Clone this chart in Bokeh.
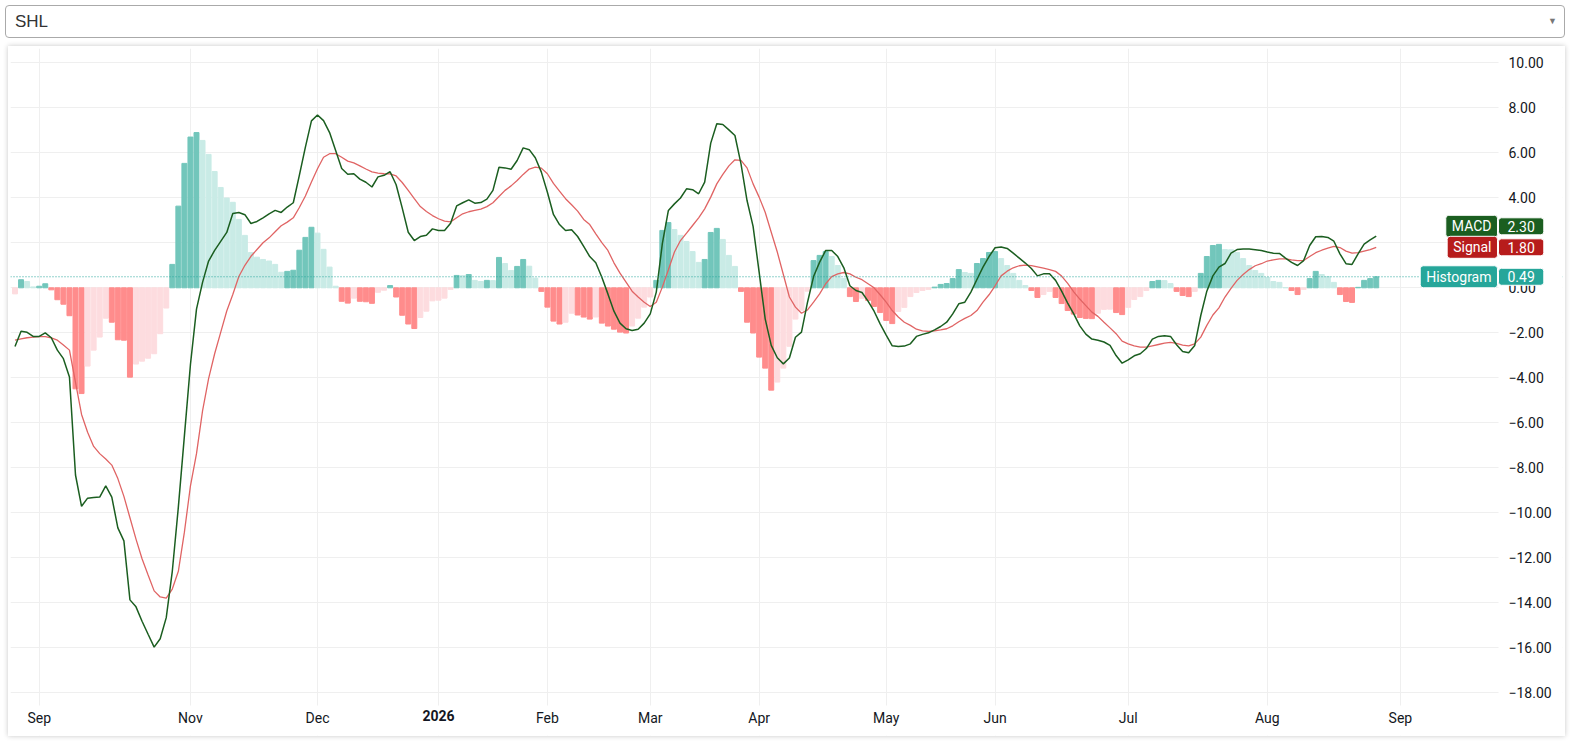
from bokeh.plotting import figure
from bokeh.models import Range1d, FixedTicker, Label, Span, Div, ColumnDataSource, BoxAnnotation
from bokeh.layouts import column
from bokeh.embed import file_html
from bokeh.resources import INLINE

symbol = "SHL"

macd = [
    -2.61, -1.93, -1.98, -2.16, -2.16, -2.00, -2.22, -2.77, -3.15, -3.96,
    -8.32, -9.71, -9.35, -9.32, -9.30, -8.80, -9.30, -10.67, -11.25, -13.87,
    -14.18, -14.82, -15.40, -15.97, -15.60, -14.66, -12.60, -9.75, -6.58, -3.41,
    -0.95, 0.24, 1.19, 1.66, 2.06, 2.46, 3.30, 3.35, 3.25, 2.86,
    2.95, 3.11, 3.29, 3.44, 3.35, 3.59, 3.78, 5.00, 6.25, 7.42,
    7.68, 7.43, 6.90, 6.10, 5.30, 5.05, 5.07, 4.83, 4.69, 4.48,
    4.93, 5.00, 5.16, 4.58, 3.55, 2.47, 2.10, 2.28, 2.34, 2.62,
    2.55, 2.55, 2.87, 3.64, 3.78, 3.91, 3.76, 3.79, 3.94, 4.33,
    5.36, 5.33, 5.27, 5.66, 6.22, 6.14, 5.78, 5.14, 4.25, 3.26,
    2.81, 2.55, 2.58, 2.28, 1.84, 1.39, 1.11, 0.47, -0.27, -1.04,
    -1.57, -1.82, -1.90, -1.84, -1.57, -1.16, -0.19, 1.96, 3.44, 3.73,
    3.99, 4.40, 4.36, 4.18, 4.70, 6.43, 7.29, 7.26, 7.02, 6.77,
    5.51, 3.88, 2.73, 0.70, -1.38, -2.56, -3.11, -3.38, -3.12, -2.20,
    -1.97, -0.64, 0.50, 1.14, 1.66, 1.66, 1.39, 0.89, 0.09, -0.12,
    -0.21, -0.59, -1.04, -1.60, -2.10, -2.58, -2.61, -2.59, -2.49, -2.16,
    -2.07, -2.00, -1.87, -1.72, -1.53, -1.16, -0.71, -0.64, -0.19, 0.37,
    0.92, 1.39, 1.78, 1.81, 1.75, 1.54, 1.32, 1.10, 0.86, 0.53,
    0.62, 0.62, 0.33, -0.15, -0.68, -1.16, -1.69, -2.06, -2.28, -2.33,
    -2.41, -2.56, -3.01, -3.35, -3.20, -3.02, -2.93, -2.70, -2.28, -2.16,
    -2.13, -2.16, -2.53, -2.83, -2.89, -2.56, -1.23, -0.15, 0.53, 0.92,
    1.08, 1.54, 1.70, 1.73, 1.72, 1.69, 1.66, 1.59, 1.54, 1.53,
    1.32, 1.13, 0.99, 1.21, 1.88, 2.27, 2.28, 2.24, 2.07, 1.51,
    1.07, 1.04, 1.51, 1.94, 2.13, 2.30,
]

signal = [
    -2.33, -2.27, -2.22, -2.19, -2.17, -2.17, -2.23, -2.33, -2.54, -2.77,
    -4.20, -5.63, -6.42, -7.05, -7.37, -7.61, -7.88, -8.48, -9.27, -10.22,
    -11.17, -12.04, -12.76, -13.47, -13.74, -13.79, -13.39, -12.60, -10.86, -8.80,
    -7.37, -5.47, -4.04, -2.93, -1.98, -1.03, -0.30, 0.50, 1.00, 1.40,
    1.70, 2.00, 2.22, 2.49, 2.76, 2.92, 3.11, 3.57, 4.08, 4.70,
    5.29, 5.80, 5.96, 5.96, 5.80, 5.63, 5.55, 5.42, 5.28, 5.15,
    5.10, 5.07, 5.06, 4.97, 4.68, 4.33, 3.96, 3.61, 3.39, 3.21,
    3.07, 2.96, 2.93, 3.11, 3.29, 3.38, 3.44, 3.50, 3.61, 3.78,
    4.06, 4.33, 4.53, 4.77, 5.04, 5.28, 5.36, 5.32, 5.07, 4.64,
    4.30, 3.96, 3.69, 3.41, 3.04, 2.81, 2.40, 2.01, 1.66, 1.11,
    0.65, 0.25, -0.15, -0.41, -0.64, -0.83, -0.64, 0.03, 0.80, 1.59,
    2.10, 2.43, 2.77, 3.11, 3.51, 4.03, 4.62, 5.04, 5.42, 5.69,
    5.66, 5.33, 4.62, 4.03, 3.36, 2.47, 1.59, 0.59, -0.41, -0.86,
    -1.13, -0.98, -0.64, -0.27, 0.18, 0.50, 0.62, 0.68, 0.62, 0.47,
    0.36, 0.18, 0.00, -0.31, -0.64, -1.01, -1.30, -1.53, -1.67, -1.84,
    -1.91, -1.94, -1.91, -1.87, -1.82, -1.69, -1.51, -1.36, -1.23, -1.01,
    -0.64, -0.31, 0.09, 0.53, 0.74, 0.89, 0.98, 1.01, 0.99, 0.93,
    0.87, 0.81, 0.73, 0.52, 0.20, -0.18, -0.50, -0.79, -1.08, -1.27,
    -1.53, -1.78, -2.04, -2.37, -2.49, -2.58, -2.64, -2.64, -2.58, -2.52,
    -2.46, -2.43, -2.47, -2.55, -2.58, -2.49, -2.19, -1.67, -1.21, -0.89,
    -0.41, -0.03, 0.33, 0.59, 0.81, 0.98, 1.07, 1.19, 1.24, 1.29,
    1.29, 1.24, 1.21, 1.21, 1.39, 1.56, 1.67, 1.76, 1.84, 1.79,
    1.63, 1.54, 1.56, 1.63, 1.70, 1.80,
]

hist = [
    -0.27, 0.36, 0.28, 0.04, 0.07, 0.18, -0.09, -0.53, -0.73, -1.24,
    -4.49, -4.70, -3.48, -2.77, -2.19, -1.35, -1.53, -2.31, -2.33, -3.97,
    -3.39, -3.26, -3.13, -2.93, -2.04, -0.90, 1.04, 3.63, 5.53, 6.70,
    6.90, 6.55, 5.93, 5.17, 4.46, 3.99, 3.80, 3.04, 2.33, 1.57,
    1.36, 1.26, 1.19, 1.04, 0.69, 0.73, 0.78, 1.67, 2.24, 2.69,
    2.43, 1.71, 0.92, 0.07, -0.60, -0.68, -0.46, -0.60, -0.62, -0.69,
    -0.20, -0.11, 0.10, -0.41, -1.22, -1.61, -1.81, -1.32, -1.04, -0.58,
    -0.55, -0.46, -0.07, 0.55, 0.54, 0.59, 0.33, 0.28, 0.33, 0.32,
    1.35, 1.08, 0.77, 0.95, 1.26, 0.96, 0.43, -0.16, -0.86, -1.48,
    -1.61, -1.53, -1.13, -1.21, -1.30, -1.39, -1.30, -1.57, -1.70, -1.84,
    -1.97, -2.01, -1.70, -1.35, -0.86, -0.41, 0.33, 2.55, 2.90, 2.59,
    2.33, 2.06, 1.61, 1.13, 1.26, 2.46, 2.64, 2.15, 1.44, 0.95,
    -0.16, -1.53, -2.01, -3.08, -3.57, -4.55, -4.19, -3.57, -2.60, -1.39,
    -1.00, -0.15, 1.21, 1.44, 1.61, 1.39, 0.99, 0.41, -0.39, -0.61,
    -0.47, -0.56, -0.83, -1.10, -1.45, -1.59, -1.05, -0.87, -0.39, -0.21,
    -0.12, -0.07, 0.03, 0.15, 0.19, 0.41, 0.81, 0.68, 0.64, 1.08,
    1.30, 1.57, 1.61, 1.30, 0.99, 0.64, 0.33, 0.10, -0.12, -0.43,
    -0.30, -0.16, -0.43, -0.70, -1.01, -1.17, -1.32, -1.36, -1.37, -1.13,
    -0.96, -0.95, -1.10, -1.19, -0.87, -0.52, -0.39, -0.12, 0.28, 0.33,
    0.32, 0.19, -0.16, -0.34, -0.39, -0.16, 0.64, 1.39, 1.88, 1.93,
    1.70, 1.69, 1.57, 1.30, 0.99, 0.77, 0.64, 0.46, 0.28, 0.24,
    0.01, -0.12, -0.30, -0.07, 0.41, 0.73, 0.59, 0.50, 0.24, -0.30,
    -0.61, -0.65, 0.02, 0.33, 0.41, 0.49,
]

month_ticks = [4, 29, 50, 70, 88, 105, 123, 144, 162, 184, 207, 229]
month_labels = ["Sep", "Nov", "Dec", "2026", "Feb", "Mar", "Apr", "May", "Jun", "Jul", "Aug", "Sep"]
year_label = "2026"
y_ticks = list(range(-18, 11, 2))

# colours
TEAL = "#72c6bb"
TEAL_LIGHT = "#c9ebe6"
RED = "#ff8c8c"
PINK = "#fddcdf"
MACD_COLOR = "#1b5e20"
SIGNAL_COLOR = "#e06464"
MACD_BADGE = "#1b5e20"
SIGNAL_BADGE = "#b71c1c"
HIST_BADGE = "#26a69a"
GRID = "#efefef"
TEXT = "#131722"
FONT = "Roboto"

n = len(hist)
idx = list(range(n))
colors = []
for i, h in enumerate(hist):
    prev = hist[i - 1] if i > 0 else h
    if h >= 0:
        colors.append(TEAL if h > prev else TEAL_LIGHT)
    else:
        colors.append(RED if h < prev else PINK)

src = ColumnDataSource(dict(x=idx, macd=macd, signal=signal, hist=hist, color=colors))

# view window (bar index / value units)
x_start, x_end = -0.744, 255.79
y_start, y_end = -19.898, 10.636
price_axis_x = 245.21      # where the price scale starts
time_axis_y = -18.564      # where the time scale starts
px_per_unit = 22.5         # vertical scale of the frame (for badge stacking)
badge_h = 21               # badge height in px

# badge centres (value units): MACD badge is stacked on top of the Signal badge
badges = [
    ("MACD", macd[-1], signal[-1] + badge_h / px_per_unit, MACD_BADGE),
    ("Signal", signal[-1], signal[-1], SIGNAL_BADGE),
    ("Histogram", hist[-1], hist[-1], HIST_BADGE),
]

p = figure(width=1557, height=690, margin=(3, 0, 0, 8),
           x_range=Range1d(x_start, x_end), y_range=Range1d(y_start, y_end),
           output_backend="svg", toolbar_location=None,
           x_axis_location="below", y_axis_location="right",
           min_border_left=2, min_border_right=3, min_border_top=2, min_border_bottom=1,
           background_fill_color="white", border_fill_color="white")
p.outline_line_color = None
p.styles = {"box-shadow": "0 0 5px rgba(0,0,0,0.22)"}

# axes
xa = p.xaxis[0]
xa.fixed_location = time_axis_y
xa.ticker = FixedTicker(ticks=month_ticks)
xa.major_label_overrides = {t: ("" if l == year_label else l) for t, l in zip(month_ticks, month_labels)}
ya = p.yaxis[0]
ya.fixed_location = price_axis_x
ya.ticker = FixedTicker(ticks=y_ticks)


def hidden_by_badge(t):
    return any(abs(t - c) < 0.45 for _, _, c, _ in badges)


ya.major_label_overrides = {t: ("" if hidden_by_badge(t) else f"{t:.2f}".replace("-", "\u2212"))
                            for t in y_ticks}
for ax in (xa, ya):
    ax.axis_line_color = None
    ax.major_tick_line_color = None
    ax.minor_tick_line_color = None
    ax.major_tick_in = 0
    ax.major_tick_out = 0
    ax.major_label_text_font = FONT
    ax.major_label_text_font_size = "14px"
    ax.major_label_text_color = TEXT
xa.major_label_standoff = 5
ya.major_label_standoff = 10

p.xgrid.ticker = FixedTicker(ticks=month_ticks)
p.ygrid.ticker = FixedTicker(ticks=y_ticks)
p.xgrid.grid_line_color = GRID
p.ygrid.grid_line_color = GRID

# blank scale areas (cover the grid there)
p.add_layout(BoxAnnotation(left=price_axis_x, fill_color="white", fill_alpha=1,
                           line_color=None, level="underlay"))
p.add_layout(BoxAnnotation(top=time_axis_y, fill_color="white", fill_alpha=1,
                           line_color=None, level="underlay"))

p.vbar(x="x", top="hist", bottom=0, width=0.82, color="color", source=src)
p.line("x", "signal", source=src, line_color=SIGNAL_COLOR, line_width=1.3)
p.line("x", "macd", source=src, line_color=MACD_COLOR, line_width=1.5)

# bold year label on the time axis
year_tick = month_ticks[month_labels.index(year_label)]
p.add_layout(Label(x=year_tick, y=time_axis_y, y_offset=-5, text=year_label,
                   text_font=FONT, text_font_size="14px", text_font_style="bold",
                   text_color=TEXT, text_align="center", text_baseline="top"))

# last histogram value line
p.add_layout(Span(location=hist[-1], dimension="width", line_color=HIST_BADGE,
                  line_width=1, line_dash="1 2"))
p.add_layout(BoxAnnotation(left=price_axis_x, bottom=hist[-1] - 0.1, top=hist[-1] + 0.1,
                           fill_color="white", fill_alpha=1, line_color=None))

for name, val, yc, color in badges:
    common = dict(x=price_axis_x, y=yc, text_font=FONT, text_font_size="14px",
                  text_color="white", text_baseline="middle",
                  background_fill_color=color, border_radius=3,
                  border_line_color="white", border_line_width=1, level="overlay")
    p.add_layout(Label(text=name, text_align="right", x_offset=-1, padding=(6, 3), **common))
    p.add_layout(Label(text=f"{val:.2f}", text_align="left", x_offset=0, padding=(9, 3), **common))

select_div = Div(
    text=(f'<div style="box-sizing:border-box;width:1560px;height:33px;border:1px solid #aaa;'
          f'border-radius:4px;font-family:\'Liberation Sans\',Arial,sans-serif;font-size:17px;'
          f'color:#333;line-height:31px;padding-left:9px;position:relative;background:#fff;">{symbol}'
          f'<span style="position:absolute;right:7px;top:0;font-size:9px;color:#777;">&#9660;</span></div>'),
    width=1560, height=33)

layout = column(select_div, p)
open("out.html", "w").write(file_html(layout, INLINE, title="MACD"))
